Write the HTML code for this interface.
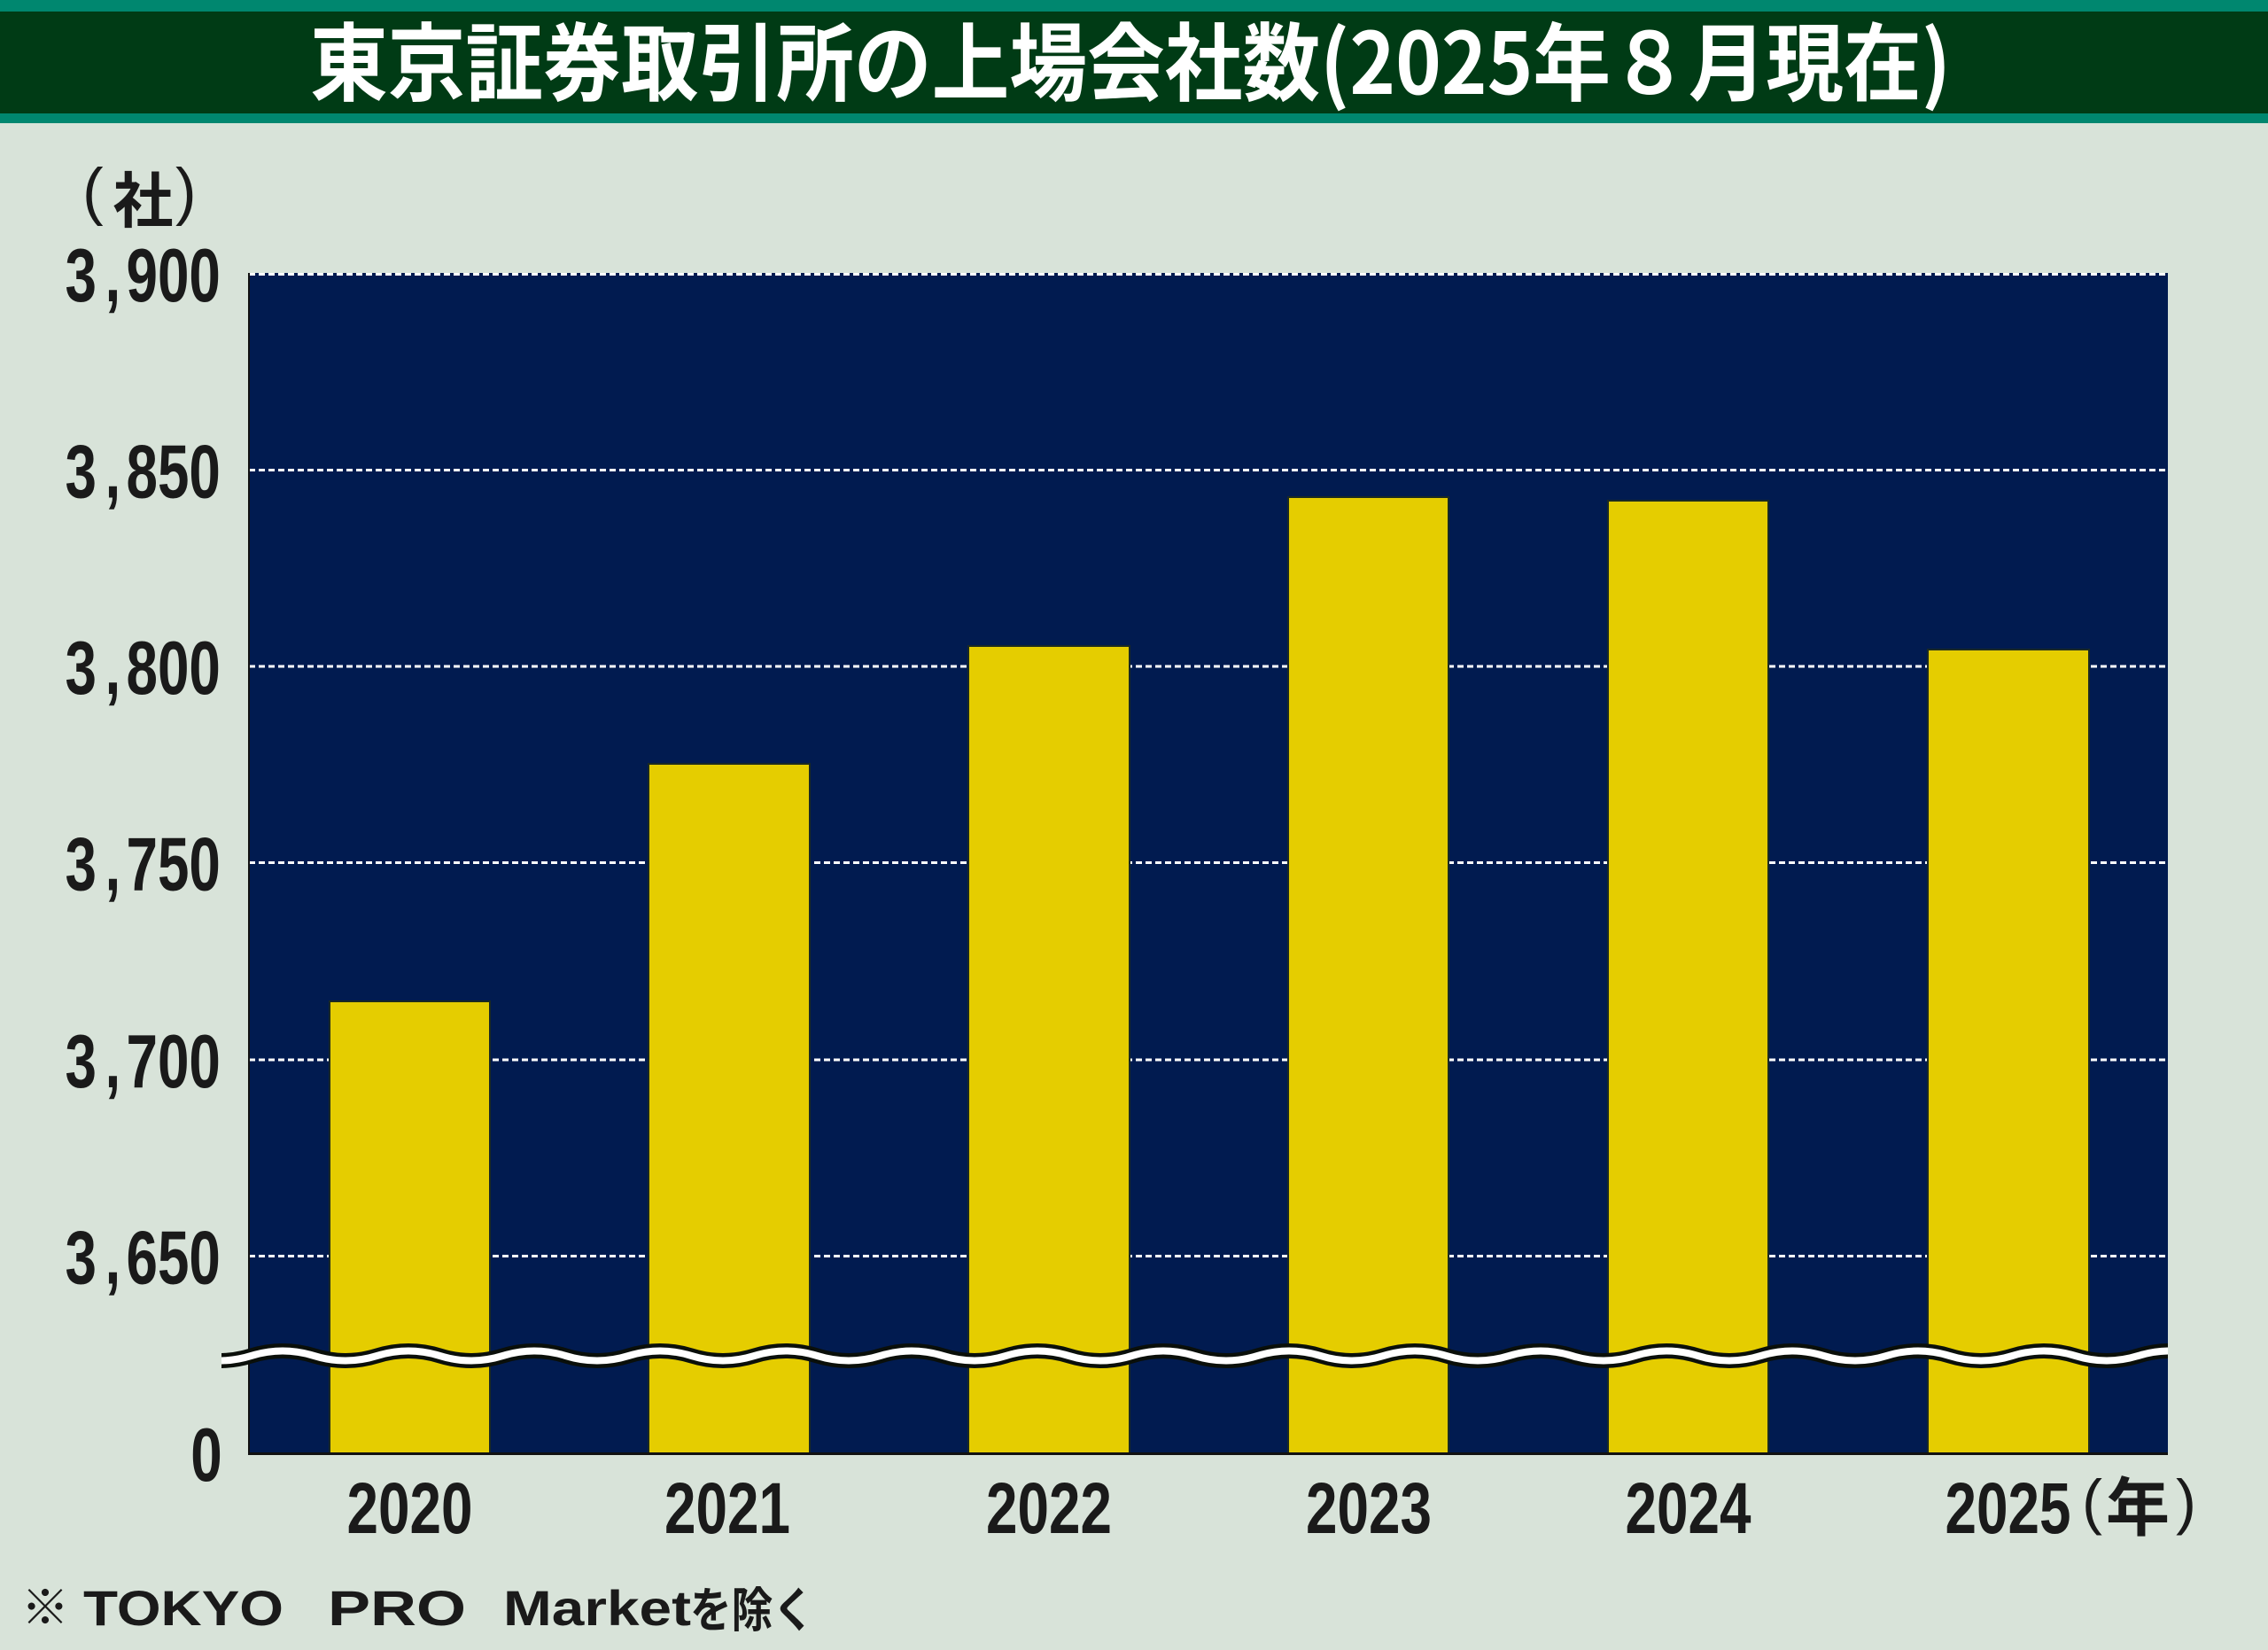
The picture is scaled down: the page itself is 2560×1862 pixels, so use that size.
<!DOCTYPE html>
<html>
<head>
<meta charset="utf-8">
<style>
html,body{margin:0;padding:0;background:#d8e3d9;}
svg{display:block;}
</style>
</head>
<body>
<svg width="2560" height="1862" viewBox="0 0 2560 1862" xmlns="http://www.w3.org/2000/svg">
  <defs>
    <clipPath id="waveclip"><rect x="250" y="1490" width="2197" height="80"/></clipPath>
  </defs>
  <!-- background -->
  <rect x="0" y="0" width="2560" height="1862" fill="#d8e3d9"/>
  <!-- title bar -->
  <rect x="0" y="0" width="2560" height="139" fill="#00876f"/>
  <rect x="0" y="13" width="2560" height="115" fill="#003b15"/>
  <text x="350" y="106" font-family="'Noto Sans CJK JP','Noto Sans CJK SC',sans-serif" font-weight="700" font-size="96" fill="#ffffff" textLength="1852" lengthAdjust="spacingAndGlyphs">東京証券取引所の上場会社数(2025年８月現在)</text>

  <!-- unit label (社) -->
  <text x="93" y="240" font-family="'Liberation Sans',sans-serif" font-size="71" fill="#1a1a1a">(</text>
  <text x="161.5" y="251" text-anchor="middle" font-family="'Liberation Sans','Noto Sans CJK JP',sans-serif" font-weight="700" font-size="68" fill="#1a1a1a">社</text>
  <text x="198" y="240" font-family="'Liberation Sans',sans-serif" font-size="71" fill="#1a1a1a">)</text>

  <!-- plot area -->
  <rect x="281" y="308" width="2166" height="1332" fill="#011b50"/>

  <!-- gridlines -->
  <g stroke="#ffffff" stroke-width="3" stroke-dasharray="7 4">
    <line x1="281" y1="309.5" x2="2447" y2="309.5"/>
    <line x1="281" y1="530.5" x2="2447" y2="530.5"/>
    <line x1="281" y1="752" x2="2447" y2="752"/>
    <line x1="281" y1="973.5" x2="2447" y2="973.5"/>
    <line x1="281" y1="1196" x2="2447" y2="1196"/>
    <line x1="281" y1="1417.5" x2="2447" y2="1417.5"/>
  </g>

  <!-- bars -->
  <g fill="#e5cd00" stroke="#1b2a22" stroke-width="2">
    <rect x="372" y="1130" width="181" height="511"/>
    <rect x="732" y="862" width="182" height="779"/>
    <rect x="1093" y="729" width="182" height="912"/>
    <rect x="1454" y="561" width="181" height="1080"/>
    <rect x="1815" y="565" width="181" height="1076"/>
    <rect x="2176" y="733" width="182" height="908"/>
  </g>

  <!-- axes -->
  <line x1="281" y1="308" x2="281" y2="1641" stroke="#111" stroke-width="2"/>
  <line x1="280" y1="1640.5" x2="2447" y2="1640.5" stroke="#111" stroke-width="3"/>

  <!-- wave break -->
  <g clip-path="url(#waveclip)" fill="none">
    <path d="M212.5 1530 Q248 1541 283.5 1530 T354.5 1530 T425.5 1530 T496.5 1530 T567.5 1530 T638.5 1530 T709.5 1530 T780.5 1530 T851.5 1530 T922.5 1530 T993.5 1530 T1064.5 1530 T1135.5 1530 T1206.5 1530 T1277.5 1530 T1348.5 1530 T1419.5 1530 T1490.5 1530 T1561.5 1530 T1632.5 1530 T1703.5 1530 T1774.5 1530 T1845.5 1530 T1916.5 1530 T1987.5 1530 T2058.5 1530 T2129.5 1530 T2200.5 1530 T2271.5 1530 T2342.5 1530 T2413.5 1530 T2484.5 1530" stroke="#0a0f0a" stroke-width="17"/>
    <path d="M212.5 1530 Q248 1541 283.5 1530 T354.5 1530 T425.5 1530 T496.5 1530 T567.5 1530 T638.5 1530 T709.5 1530 T780.5 1530 T851.5 1530 T922.5 1530 T993.5 1530 T1064.5 1530 T1135.5 1530 T1206.5 1530 T1277.5 1530 T1348.5 1530 T1419.5 1530 T1490.5 1530 T1561.5 1530 T1632.5 1530 T1703.5 1530 T1774.5 1530 T1845.5 1530 T1916.5 1530 T1987.5 1530 T2058.5 1530 T2129.5 1530 T2200.5 1530 T2271.5 1530 T2342.5 1530 T2413.5 1530 T2484.5 1530" stroke="#ffffff" stroke-width="8"/>
  </g>

  <!-- y-axis labels (condensed via scaleX) -->
  <g transform="scale(0.75,1)" font-family="'Liberation Sans',sans-serif" font-weight="700" font-size="85" fill="#1a1a1a">
    <text y="340"><tspan x="98">3</tspan><tspan x="158">,</tspan><tspan x="190">900</tspan></text>
    <text y="561.5"><tspan x="98">3</tspan><tspan x="158">,</tspan><tspan x="190">850</tspan></text>
    <text y="783"><tspan x="98">3</tspan><tspan x="158">,</tspan><tspan x="190">800</tspan></text>
    <text y="1004.5"><tspan x="98">3</tspan><tspan x="158">,</tspan><tspan x="190">750</tspan></text>
    <text y="1227"><tspan x="98">3</tspan><tspan x="158">,</tspan><tspan x="190">700</tspan></text>
    <text y="1448.5"><tspan x="98">3</tspan><tspan x="158">,</tspan><tspan x="190">650</tspan></text>
    <text y="1671" x="287">0</text>
  </g>

  <!-- x-axis labels -->
  <g font-family="'Liberation Sans',sans-serif" font-weight="700" font-size="82" fill="#1a1a1a" text-anchor="middle">
    <text x="462.5" y="1730" textLength="142" lengthAdjust="spacingAndGlyphs">2020</text>
    <text x="821" y="1730" textLength="142" lengthAdjust="spacingAndGlyphs">2021</text>
    <text x="1184" y="1730" textLength="142" lengthAdjust="spacingAndGlyphs">2022</text>
    <text x="1545" y="1730" textLength="142" lengthAdjust="spacingAndGlyphs">2023</text>
    <text x="1905.5" y="1730" textLength="142" lengthAdjust="spacingAndGlyphs">2024</text>
    <text x="2266.5" y="1730" textLength="142" lengthAdjust="spacingAndGlyphs">2025</text>
  </g>
  <text x="2350" y="1718" font-family="'Liberation Sans',sans-serif" font-size="69" fill="#1a1a1a">(</text>
  <text x="2413" y="1727" text-anchor="middle" font-family="'Liberation Sans','Noto Sans CJK JP',sans-serif" font-weight="700" font-size="72" fill="#1a1a1a">年</text>
  <text x="2456" y="1718" font-family="'Liberation Sans',sans-serif" font-size="69" fill="#1a1a1a">)</text>

  <!-- footnote -->
  <text x="51" y="1833" text-anchor="middle" font-family="'Noto Sans CJK JP',sans-serif" font-weight="700" font-size="54" fill="#1a1a1a">※</text>
  <g font-family="'Liberation Sans',sans-serif" font-weight="700" font-size="56" fill="#1a1a1a">
    <text x="94" y="1834" textLength="226" lengthAdjust="spacingAndGlyphs">TOKYO</text>
    <text x="370" y="1834" textLength="156" lengthAdjust="spacingAndGlyphs">PRO</text>
    <text x="568" y="1834" textLength="212" lengthAdjust="spacingAndGlyphs">Market</text>
  </g>
  <text x="779" y="1836" font-family="'Noto Sans CJK JP',sans-serif" font-weight="700" font-size="54" fill="#1a1a1a" textLength="140" lengthAdjust="spacingAndGlyphs">を除く</text>
</svg>
</body>
</html>
